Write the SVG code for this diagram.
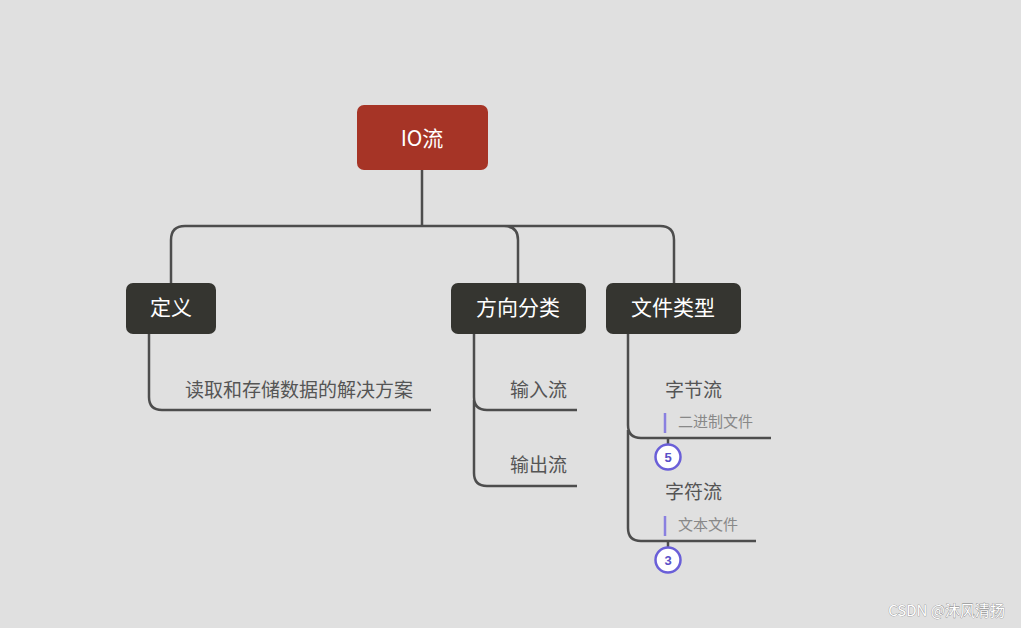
<svg xmlns="http://www.w3.org/2000/svg" width="1021" height="628" viewBox="0 0 1021 628">
<style>
.ln{fill:none;stroke:#4d4d4d;stroke-width:2.5}
.t{font-family:"Noto Sans CJK SC","Noto Sans",sans-serif}
.lb{font-size:19px;fill:#555}
.nd{fill:#353530}
.nt{font-size:21px;fill:#fff;text-anchor:middle}
.nt2{font-size:15px;fill:#888}
.bd{fill:#fff;stroke:#6a5fd8;stroke-width:2.5}
.bt{font-family:"Liberation Sans",sans-serif;font-weight:bold;font-size:13px;fill:#5a50c8;text-anchor:middle}
</style>
<rect width="1021" height="628" fill="#e0e0e0"/>
<g id="connectors">
<path class="ln" d="M422 170V226M171 283V240Q171 226 185 226H660Q674 226 674 240V283M504 226Q518 226 518 240V283"/>
<path class="ln" d="M149 334V397Q149 410 162 410H431"/>
<path class="ln" d="M474 334V397Q474 410 487 410H577M474 400V473Q474 486 487 486H577"/>
<path class="ln" d="M628 334V425Q628 438 641 438H771M628 430V528Q628 541 641 541H756"/>
<path class="ln" d="M668 438V446M668 541V549" stroke-width="2"/>
</g>
<g id="root"><rect x="357" y="105" width="131" height="65" rx="7" fill="#a63426"/><text class="t nt" x="422" y="146" font-size="26">IO流</text></g>
<g id="def"><rect class="nd" x="126" y="283" width="90" height="51" rx="7"/><text class="t nt" x="171" y="315">定义</text></g>
<g id="dir"><rect class="nd" x="451" y="283" width="135" height="51" rx="7"/><text class="t nt" x="518" y="315">方向分类</text></g>
<g id="type"><rect class="nd" x="606" y="283" width="135" height="51" rx="7"/><text class="t nt" x="673" y="315">文件类型</text></g>
<g id="defl"><text class="t lb" x="185" y="397">读取和存储数据的解决方案</text></g>
<g id="in"><text class="t lb" x="510" y="397">输入流</text></g>
<g id="out"><text class="t lb" x="510" y="472">输出流</text></g>
<g id="byte"><text class="t lb" x="665" y="397">字节流</text>
<line x1="665" y1="413" x2="665" y2="433" stroke="#8a80e0" stroke-width="2.5"/><text class="t nt2" x="678" y="427">二进制文件</text>
<circle class="bd" cx="668" cy="457" r="12.5"/><text class="bt" x="668" y="462">5</text></g>
<g id="char"><text class="t lb" x="665" y="499">字符流</text>
<line x1="665" y1="516" x2="665" y2="536" stroke="#8a80e0" stroke-width="2.5"/><text class="t nt2" x="678" y="530">文本文件</text>
<circle class="bd" cx="668" cy="560" r="12.5"/><text class="bt" x="668" y="565">3</text></g>
<text class="t" x="1005" y="616" font-size="15" fill="#ffffff" text-anchor="end" stroke="#777" stroke-width="0.6" paint-order="stroke">CSDN @沐风清扬</text>
</svg>
